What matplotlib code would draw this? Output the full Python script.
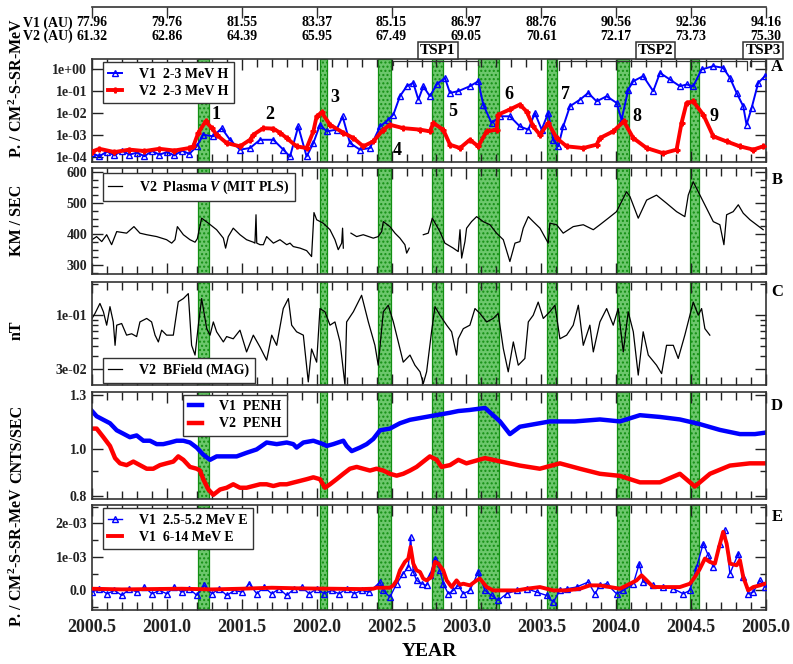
import numpy as np
import matplotlib
matplotlib.use('Agg')
import matplotlib.pyplot as plt
import matplotlib.ticker as mticker
import matplotlib.transforms as mtrans

plt.rcParams['font.family'] = ['Liberation Serif', 'DejaVu Serif']
plt.rcParams['font.weight'] = 'bold'
plt.rcParams['mathtext.fontset'] = 'custom'
plt.rcParams['mathtext.rm'] = 'Liberation Serif:bold'
plt.rcParams['mathtext.it'] = 'Liberation Serif:bold:italic'
plt.rcParams['mathtext.bf'] = 'Liberation Serif:bold'

# ---- data ----
# green shaded intervals (years)
bands = [(2001.208, 2001.281), (2002.022, 2002.069), (2002.409, 2002.496),
         (2002.770, 2002.843), (2003.077, 2003.217), (2003.537, 2003.604),
         (2004.005, 2004.085), (2004.492, 2004.552)]

# top axis: heliocentric distances
top_years = [2000.5, 2001.0, 2001.5, 2002.0, 2002.5, 2003.0, 2003.5, 2004.0, 2004.5, 2005.0]
v1_au = ['77.96', '79.76', '81.55', '83.37', '85.15', '86.97', '88.76', '90.56', '92.36', '94.16']
v2_au = ['61.32', '62.86', '64.39', '65.95', '67.49', '69.05', '70.61', '72.17', '73.73', '75.30']

tsp_names = ['TSP1', 'TSP2', 'TSP3']
tsp_centers = [2002.81, 2004.265, 2004.98]
tsp_spans = [(2002.51, 2003.08), (2003.62, 2004.87), (2004.89, 2004.99)]

event_labels = ['1', '2', '3', '4', '5', '6', '7', '8', '9']
event_x = [2001.33, 2001.69, 2002.12, 2002.54, 2002.91, 2003.28, 2003.66, 2004.14, 2004.65]
event_y = [8.5e-3, 8.5e-3, 5e-2, 2e-4, 1.15e-2, 7e-2, 7e-2, 6.8e-3, 6.8e-3]

# Panel A: 2-3 MeV H
a_v1_t = [2000.50, 2000.55, 2000.60, 2000.65, 2000.70, 2000.75, 2000.80, 2000.85, 2000.90,
          2000.95, 2001.00, 2001.05, 2001.10, 2001.15, 2001.199, 2001.243, 2001.310, 2001.366,
          2001.421, 2001.488, 2001.555, 2001.622, 2001.711, 2001.777, 2001.822, 2001.877,
          2001.933, 2001.978, 2002.022, 2002.067, 2002.133, 2002.173, 2002.222, 2002.289,
          2002.356, 2002.423, 2002.478, 2002.512, 2002.556, 2002.601, 2002.645, 2002.679,
          2002.712, 2002.756, 2002.801, 2002.856, 2002.890, 2002.945, 2003.023, 2003.079,
          2003.112, 2003.168, 2003.224, 2003.290, 2003.357, 2003.413, 2003.457, 2003.502,
          2003.546, 2003.580, 2003.613, 2003.646, 2003.691, 2003.758, 2003.813, 2003.869,
          2003.936, 2004.002, 2004.036, 2004.080, 2004.114, 2004.180, 2004.247, 2004.292,
          2004.358, 2004.425, 2004.470, 2004.514, 2004.570, 2004.648, 2004.714, 2004.759,
          2004.804, 2004.848, 2004.870, 2004.904, 2004.948, 2004.993]
a_v1 = [1.5e-4, 1.1e-4, 1.8e-4, 1.2e-4, 2.0e-4, 1.3e-4, 1.6e-4, 1.1e-4, 1.9e-4,
        1.3e-4, 1.7e-4, 1.2e-4, 2.0e-4, 1.4e-4, 3.1e-4, 1.05e-3, 8.9e-4, 2.1e-3,
        6.2e-4, 2.2e-4, 2.6e-4, 6.2e-4, 6.2e-4, 2.2e-4, 1.07e-4, 2.5e-3,
        1.07e-4, 4.4e-4, 3.0e-3, 1.5e-3, 1.8e-3, 7.3e-3, 4.4e-4, 2.2e-4,
        2.6e-4, 2.5e-3, 5.1e-3, 8.7e-3, 6.0e-2, 1.7e-1, 2.45e-1, 4.2e-2,
        1.7e-1, 6.0e-2, 2.06e-1, 4.15e-1, 8.5e-2, 1.02e-1, 1.72e-1, 2.9e-1,
        2.5e-2, 3.6e-3, 7.3e-3, 7.3e-3, 2.5e-3, 1.8e-3, 1.04e-2, 1.8e-3,
        1.04e-2, 6.2e-4, 3.1e-4, 2.5e-3, 2.1e-2, 4.2e-2, 8.5e-2, 3.5e-2,
        6.0e-2, 3.0e-2, 5.1e-3, 1.21e-1, 2.9e-1, 5.0e-1, 1.02e-1, 7.0e-1,
        3.5e-1, 1.72e-1, 2.06e-1, 1.72e-1, 1.0, 1.42, 1.19, 4.15e-1,
        8.5e-2, 2.1e-2, 3.0e-3, 1.75e-2, 2.45e-1, 5.0e-1]

a_v2_t = [2000.50, 2000.55, 2000.65, 2000.75, 2000.85, 2000.95, 2001.05, 2001.15, 2001.176,
          2001.210, 2001.259, 2001.300, 2001.332, 2001.399, 2001.488, 2001.555, 2001.577,
          2001.644, 2001.711, 2001.755, 2001.800, 2001.866, 2001.933, 2001.978, 2002.000,
          2002.033, 2002.089, 2002.178, 2002.245, 2002.311, 2002.378, 2002.445, 2002.489,
          2002.578, 2002.690, 2002.756, 2002.779, 2002.845, 2002.890, 2002.957, 2003.023,
          2003.079, 2003.135, 2003.201, 2003.212, 2003.290, 2003.357, 2003.402, 2003.446,
          2003.491, 2003.546, 2003.602, 2003.669, 2003.780, 2003.869, 2003.891, 2003.980,
          2004.051, 2004.114, 2004.203, 2004.314, 2004.403, 2004.436, 2004.470, 2004.514,
          2004.581, 2004.648, 2004.737, 2004.826, 2004.915, 2004.981]
a_v2 = [1.8e-4, 2.4e-4, 1.7e-4, 2.2e-4, 1.9e-4, 2.4e-4, 2.0e-4, 2.6e-4, 3.1e-4,
        1.3e-3, 4.3e-3, 2.1e-3, 1.05e-3, 4.4e-4, 3.1e-4, 6.2e-4, 1.05e-3,
        2.1e-3, 2.0e-3, 1.3e-3, 7.4e-4, 3.1e-4, 2.6e-4, 1.5e-3, 7.3e-3,
        1.1e-2, 3.0e-3, 1.3e-3, 7.4e-4, 3.1e-4, 5.2e-4, 1.8e-3, 3.0e-3,
        2.1e-3, 1.8e-3, 1.5e-3, 3.6e-3, 1.8e-3, 3.7e-4, 2.6e-4, 6.2e-4,
        3.1e-4, 1.5e-3, 1.8e-3, 8.7e-3, 1.5e-2, 2.5e-2, 1.2e-2, 2.5e-3,
        1.05e-3, 3.6e-3, 7.4e-4, 3.1e-4, 2.6e-4, 3.7e-4, 7.4e-4, 1.5e-3,
        4.3e-3, 7.4e-4, 2.6e-4, 1.5e-4, 2.2e-4, 3.6e-3, 3.0e-2, 3.5e-2,
        8.7e-3, 8.9e-4, 5.2e-4, 3.1e-4, 2.2e-4, 3.1e-4]

# Panel B: V2 plasma speed (km/s), NaN = data gap
b_t = [2000.50, 2000.531, 2000.565, 2000.598, 2000.631, 2000.665, 2000.731, 2000.780, 2000.820,
       2000.865, 2000.932, 2000.998, 2001.032, 2001.054, 2001.070, 2001.110, 2001.154, 2001.188,
       2001.203, 2001.232, 2001.277, 2001.332, 2001.377, 2001.392, 2001.410, 2001.443, 2001.488,
       2001.532, 2001.577, 2001.588, 2001.595, 2001.600, 2001.622, 2001.644, 2001.666, 2001.711,
       2001.755, 2001.800, 2001.822, 2001.844, 2001.889, 2001.933, 2001.966, 2001.982, 2002.000,
       2002.044, 2002.089, 2002.122, 2002.144, 2002.167, 2002.173, 2002.178, 2002.200, 2002.229,
       2002.267, 2002.311, 2002.378, 2002.411, 2002.434, 2002.445, 2002.489, 2002.523, 2002.556,
       2002.589, 2002.601, 2002.618, 2002.660, 2002.712, 2002.745, 2002.772, 2002.823, 2002.856,
       2002.912, 2002.945, 2002.957, 2002.968, 2002.990, 2003.001, 2003.034, 2003.068, 2003.112,
       2003.157, 2003.201, 2003.246, 2003.290, 2003.324, 2003.357, 2003.379, 2003.413, 2003.446,
       2003.491, 2003.546, 2003.557, 2003.602, 2003.646, 2003.713, 2003.780, 2003.847, 2003.891,
       2003.947, 2004.002, 2004.069, 2004.092, 2004.147, 2004.203, 2004.269, 2004.336, 2004.403,
       2004.458, 2004.481, 2004.514, 2004.559, 2004.603, 2004.648, 2004.692, 2004.719, 2004.737,
       2004.781, 2004.815, 2004.848, 2004.893, 2004.937, 2004.981]
b_v = [382, 392, 376, 398, 366, 408, 403, 424, 403,
       398, 392, 382, 371, 382, 424, 398, 382, 374,
       385, 451, 435, 414, 387, 355, 392, 419, 398,
       382, 374, 371, 462, 371, 366, 366, 392, 371,
       382, 366, 371, 360, 355, 347, 328, 469, 446,
       435, 414, 382, 350, 371, 419, 355, np.nan, 403,
       392, 398, 387, 392, 408, 440, 424, 403, 387,
       366, 339, 355, np.nan, 398, 403, 451, 408, 371,
       355, 344, 414, 323, 376, 419, 440, 456, 440,
       430, 403, 382, 312, 371, 376, 419, 456, 440,
       419, 371, 435, 430, 403, 424, 430, 414, 430,
       451, 472, 536, 520, 451, 509, 525, 499, 472,
       456, 525, 568, 525, 483, 440, 430, 366, 462,
       472, 494, 467, 446, 430, 414]

# Panel C: V2 magnetic field (nT)
c_t = [2000.50, 2000.520, 2000.553, 2000.576, 2000.598, 2000.620, 2000.642, 2000.654, 2000.665,
       2000.698, 2000.731, 2000.765, 2000.798, 2000.820, 2000.865, 2000.898, 2000.921, 2000.943,
       2000.965, 2000.998, 2001.043, 2001.076, 2001.110, 2001.143, 2001.165, 2001.188, 2001.210,
       2001.232, 2001.266, 2001.288, 2001.310, 2001.332, 2001.377, 2001.399, 2001.443, 2001.488,
       2001.532, 2001.577, 2001.622, 2001.666, 2001.700, 2001.733, 2001.777, 2001.811, 2001.833,
       2001.866, 2001.911, 2001.944, 2001.966, 2002.000, 2002.022, 2002.055, 2002.089, 2002.122,
       2002.156, 2002.189, 2002.200, 2002.245, 2002.300, 2002.345, 2002.389, 2002.411, 2002.445,
       2002.478, 2002.512, 2002.545, 2002.578, 2002.623, 2002.656, 2002.690, 2002.712, 2002.734,
       2002.767, 2002.790, 2002.823, 2002.868, 2002.901, 2002.934, 2002.945, 2002.979, 2003.023,
       2003.057, 2003.090, 2003.135, 2003.179, 2003.212, 2003.246, 2003.279, 2003.313, 2003.346,
       2003.390, 2003.413, 2003.446, 2003.479, 2003.513, 2003.557, 2003.591, 2003.624, 2003.669,
       2003.713, 2003.747, 2003.780, 2003.824, 2003.847, 2003.891, 2003.936, 2003.980, 2004.013,
       2004.047, 2004.080, 2004.114, 2004.147, 2004.180, 2004.214, 2004.269, 2004.303, 2004.336,
       2004.381, 2004.414, 2004.458, 2004.492, 2004.514, 2004.548, 2004.570, 2004.592, 2004.625]
c_v = [0.093, 0.104, 0.130, 0.108, 0.080, 0.121, 0.086, 0.051, 0.080,
       0.083, 0.064, 0.066, 0.062, 0.086, 0.093, 0.086, 0.064, 0.055,
       0.0715, 0.064, 0.064, 0.135, 0.145, 0.162, 0.051, 0.041, 0.080,
       0.145, 0.074, 0.064, 0.086, 0.069, 0.055, 0.062, 0.059, 0.0715,
       0.044, 0.064, 0.049, 0.0366, 0.064, 0.051, 0.116, 0.145, 0.080,
       0.069, 0.064, 0.0225, 0.047, 0.035, 0.116, 0.108, 0.080, 0.086,
       0.055, 0.021, 0.086, 0.108, 0.156, 0.086, 0.051, 0.0327, 0.108,
       0.125, 0.086, 0.055, 0.035, 0.041, 0.0327, 0.0282, 0.0217, 0.0282,
       0.069, 0.121, 0.100, 0.080, 0.069, 0.041, 0.059, 0.074, 0.080,
       0.116, 0.104, 0.086, 0.093, 0.104, 0.0475, 0.0282, 0.055, 0.0327,
       0.038, 0.086, 0.100, 0.134, 0.093, 0.108, 0.125, 0.059, 0.064,
       0.080, 0.125, 0.051, 0.080, 0.044, 0.086, 0.116, 0.080, 0.116,
       0.044, 0.108, 0.069, 0.0262, 0.069, 0.041, 0.0327, 0.0271, 0.051,
       0.051, 0.038, 0.064, 0.100, 0.134, 0.100, 0.116, 0.074, 0.064]

# Panel D: PENH count rates (cnts/s)
d_v1_t = [2000.50, 2000.531, 2000.576, 2000.620, 2000.665, 2000.709, 2000.753, 2000.798, 2000.843,
          2000.887, 2000.932, 2000.976, 2001.021, 2001.065, 2001.110, 2001.154, 2001.199, 2001.243,
          2001.288, 2001.332, 2001.399, 2001.466, 2001.532, 2001.599, 2001.666, 2001.733, 2001.800,
          2001.844, 2001.866, 2001.911, 2001.978, 2002.044, 2002.067, 2002.111, 2002.178, 2002.200,
          2002.234, 2002.289, 2002.334, 2002.378, 2002.423, 2002.489, 2002.556, 2002.623, 2002.690,
          2002.756, 2002.823, 2002.890, 2002.946, 2003.020, 2003.124, 2003.224, 2003.290, 2003.357,
          2003.557, 2003.724, 2003.891, 2004.025, 2004.158, 2004.292, 2004.425, 2004.559, 2004.692,
          2004.826, 2004.926, 2005.0]
d_v1 = [1.204, 1.174, 1.154, 1.135, 1.097, 1.079, 1.061, 1.070, 1.043,
        1.043, 1.026, 1.026, 1.034, 1.043, 1.043, 1.034, 1.009, 0.975,
        0.951, 0.967, 0.967, 0.967, 0.984, 1.000, 1.034, 1.026, 1.034,
        1.026, 1.009, 1.034, 1.043, 1.026, 1.017, 1.026, 1.043, 1.017,
        0.992, 1.009, 1.026, 1.052, 1.097, 1.106, 1.135, 1.154, 1.164,
        1.174, 1.184, 1.194, 1.204, 1.210, 1.222, 1.145, 1.077, 1.116,
        1.145, 1.145, 1.156, 1.145, 1.180, 1.170, 1.156, 1.130, 1.099,
        1.077, 1.077, 1.085]
d_v2_t = [2000.50, 2000.531, 2000.576, 2000.620, 2000.654, 2000.687, 2000.731, 2000.776, 2000.820,
          2000.865, 2000.909, 2000.954, 2000.998, 2001.043, 2001.076, 2001.110, 2001.154, 2001.199,
          2001.221, 2001.243, 2001.277, 2001.310, 2001.355, 2001.399, 2001.443, 2001.488, 2001.532,
          2001.577, 2001.622, 2001.666, 2001.711, 2001.755, 2001.800, 2001.844, 2001.889, 2001.933,
          2001.978, 2002.022, 2002.055, 2002.089, 2002.133, 2002.178, 2002.222, 2002.267, 2002.311,
          2002.356, 2002.400, 2002.445, 2002.489, 2002.534, 2002.578, 2002.623, 2002.667, 2002.712,
          2002.756, 2002.801, 2002.834, 2002.890, 2002.946, 2003.000, 2003.124, 2003.224, 2003.357,
          2003.490, 2003.624, 2003.757, 2003.891, 2004.025, 2004.158, 2004.292, 2004.425, 2004.525,
          2004.626, 2004.759, 2004.892, 2005.0]
d_v2 = [1.106, 1.106, 1.061, 1.017, 0.959, 0.935, 0.927, 0.943, 0.927,
        0.911, 0.911, 0.927, 0.935, 0.943, 0.967, 0.951, 0.919, 0.911,
        0.903, 0.866, 0.824, 0.803, 0.824, 0.831, 0.845, 0.831, 0.831,
        0.838, 0.845, 0.845, 0.838, 0.845, 0.845, 0.852, 0.859, 0.866,
        0.874, 0.866, 0.831, 0.845, 0.866, 0.889, 0.911, 0.919, 0.911,
        0.903, 0.911, 0.903, 0.889, 0.881, 0.889, 0.903, 0.919, 0.943,
        0.967, 0.951, 0.919, 0.927, 0.951, 0.935, 0.959, 0.944, 0.925,
        0.911, 0.935, 0.911, 0.889, 0.880, 0.853, 0.853, 0.889, 0.836,
        0.889, 0.925, 0.935, 0.935]

# Panel E: electrons, in units of 1e-3
e_hi_t = [2000.50, 2000.70, 2000.90, 2001.10, 2001.30, 2001.50, 2001.70, 2001.90, 2002.10,
          2002.30, 2002.378, 2002.400, 2002.489, 2002.512, 2002.534, 2002.556, 2002.589, 2002.612,
          2002.627, 2002.645, 2002.667, 2002.690, 2002.712, 2002.734, 2002.767, 2002.790, 2002.812,
          2002.845, 2002.868, 2002.901, 2002.934, 2002.957, 2002.979, 2003.023, 2003.068, 2003.090,
          2003.135, 2003.179, 2003.224, 2003.268, 2003.335, 2003.402, 2003.491, 2003.535, 2003.580,
          2003.669, 2003.758, 2003.824, 2003.891, 2003.958, 2004.025, 2004.092, 2004.136, 2004.169,
          2004.203, 2004.247, 2004.336, 2004.425, 2004.492, 2004.525, 2004.559, 2004.592, 2004.625,
          2004.659, 2004.681, 2004.714, 2004.737, 2004.759, 2004.804, 2004.826, 2004.848, 2004.881,
          2004.915, 2004.959, 2004.993]
e_hi = [0.05, 0.03, 0.04, 0.05, 0.03, 0.05, 0.08, 0.06, 0.05,
        0.04, 0.05, 0.08, 0.08, 0.15, 0.30, 0.60, 0.85, 0.95,
        1.30, 0.80, 0.60, 0.55, 0.35, 0.30, 0.40, 0.85, 0.80,
        0.60, 0.30, 0.10, 0.30, 0.17, 0.20, 0.15, 0.30, 0.35,
        0.10, 0.0, 0.0, 0.0, 0.0, 0.05, 0.10, 0.05, 0.0,
        0.0, 0.05, 0.15, 0.15, 0.10, 0.05, 0.20, 0.30, 0.45,
        0.30, 0.10, 0.10, 0.10, 0.20, 0.40, 0.65, 0.95, 0.85,
        0.80, 1.20, 1.75, 1.40, 0.80, 0.75, 0.90, 0.40, 0.0,
        0.10, 0.15, 0.20]
e_lo_t = [2000.50, 2000.55, 2000.60, 2000.65, 2000.70, 2000.75, 2000.80, 2000.85, 2000.90,
          2000.95, 2001.00, 2001.05, 2001.10, 2001.15, 2001.20, 2001.25, 2001.30, 2001.35,
          2001.40, 2001.45, 2001.50, 2001.55, 2001.60, 2001.65, 2001.70, 2001.75, 2001.80,
          2001.85, 2001.90, 2001.95, 2002.00, 2002.05, 2002.10, 2002.15, 2002.20, 2002.25,
          2002.30, 2002.35, 2002.423, 2002.445, 2002.489, 2002.534, 2002.578, 2002.612, 2002.627,
          2002.645, 2002.667, 2002.701, 2002.734, 2002.756, 2002.790, 2002.823, 2002.845, 2002.879,
          2002.912, 2002.946, 2002.979, 2003.023, 2003.079, 2003.123, 2003.168, 2003.212, 2003.268,
          2003.335, 2003.402, 2003.468, 2003.535, 2003.580, 2003.624, 2003.669, 2003.735, 2003.813,
          2003.858, 2003.891, 2003.936, 2004.002, 2004.047, 2004.114, 2004.154, 2004.180, 2004.247,
          2004.314, 2004.381, 2004.447, 2004.492, 2004.537, 2004.581, 2004.614, 2004.648, 2004.692,
          2004.726, 2004.759, 2004.815, 2004.848, 2004.881, 2004.915, 2004.959, 2004.993]
e_lo = [-0.05, 0.05, -0.10, 0.0, -0.15, 0.05, -0.05, 0.10, -0.10,
        0.0, -0.10, 0.10, -0.05, 0.05, -0.15, 0.15, -0.10, 0.05,
        -0.15, 0.0, -0.05, 0.20, -0.10, 0.10, -0.10, 0.05, -0.15,
        0.05, 0.10, -0.10, 0.05, -0.10, 0.0, -0.10, 0.05, -0.10,
        0.0, -0.05, 0.25, 0.0, -0.20, 0.20, 0.50, 0.70, 1.60,
        0.55, 0.30, 0.20, 0.15, 0.45, 0.95, 0.60, 0.20, -0.10,
        0.0, 0.15, -0.10, 0.0, 0.55, 0.0, -0.15, -0.30, -0.10,
        0.0, 0.05, -0.05, -0.15, -0.35, 0.0, 0.05, 0.10, 0.25,
        -0.10, 0.15, 0.20, -0.10, 0.0, 0.20, 0.80, 0.25, 0.15,
        0.10, 0.05, -0.10, 0.0, 0.70, 1.40, 1.05, 0.70, 1.40,
        1.80, 0.50, 1.10, 0.40, -0.10, -0.05, 0.30, 0.10]

# ---- figure ----
W, H = 793, 664
fig = plt.figure(figsize=(W / 100, H / 100), dpi=100)
x0, x1 = 92, 766
panel_px = [(59, 162), (168, 274), (282, 385), (392, 499), (505, 609.5)]
axes = []
for top, bot in panel_px:
    axes.append(fig.add_axes([x0 / W, 1 - bot / H, (x1 - x0) / W, (bot - top) / H]))
axA, axB, axC, axD, axE = axes

blue = '#0000ff'
red = '#ff0000'

for ax in axes:
    ax.set_xlim(2000.5, 2005.0)
    for a, b in bands:
        ax.axvspan(a, b, facecolor='#6cc76c', edgecolor='#138f13', hatch='....',
                   lw=0.9, zorder=0)
    ax.xaxis.set_major_locator(mticker.MultipleLocator(0.5))
    ax.xaxis.set_minor_locator(mticker.MultipleLocator(0.1))
    ax.tick_params(which='both', direction='in', top=True, right=True,
                   labelsize=10, width=1.0, colors='#222222')
    ax.tick_params(which='major', length=8)
    ax.tick_params(which='minor', length=6)
    ax.tick_params(axis='y', which='minor', length=4)
    ax.tick_params(axis='x', labelbottom=False)
    for s in ax.spines.values():
        s.set_linewidth(1.2)
        s.set_color('#333333')

# Panel A
axA.set_yscale('log')
axA.set_ylim(6e-5, 3.0)
axA.plot(a_v1_t, a_v1, color=blue, lw=1.4, marker='^', ms=4, mfc='none', mew=1.0,
         label='V1  2-3 MeV H', zorder=3)
axA.plot(a_v2_t, a_v2, color=red, lw=2.8, marker='P', ms=3.5, label='V2  2-3 MeV H', zorder=4)
axA.yaxis.set_major_locator(mticker.FixedLocator([1e-4, 1e-3, 1e-2, 1e-1, 1e0]))
axA.yaxis.set_major_formatter(mticker.FuncFormatter(lambda v, p: '%.0e' % v))
axA.yaxis.set_minor_locator(mticker.LogLocator(subs=np.arange(2, 10)))
axA.yaxis.set_minor_formatter(mticker.NullFormatter())
for lab, xx, yy in zip(event_labels, event_x, event_y):
    axA.text(xx, yy, lab, fontsize=13, fontweight='bold', ha='center', va='center', zorder=6)
brk = mtrans.blended_transform_factory(axA.transData, axA.transAxes)
for (a, b), depth in zip(tsp_spans, [0.94, 0.89, 0.93]):
    axA.plot([a, a, b, b], [depth, 0.98, 0.98, depth], color='#333333', lw=0.9,
             transform=brk, clip_on=False, zorder=5)
for name, xc in zip(tsp_names, tsp_centers):
    axA.text(xc, 1.085, name, transform=brk, fontsize=11, fontweight='bold', ha='center',
             va='center', bbox=dict(boxstyle='square,pad=0.12', fc='white', ec='#333333', lw=1.1))

# Panel B
axB.set_ylim(272, 612)
axB.plot(b_t, b_v, color='black', lw=0.9, label='V2  Plasma $V$ (MIT PLS)')
axB.yaxis.set_major_locator(mticker.MultipleLocator(100))
axB.yaxis.set_minor_locator(mticker.MultipleLocator(25))

# Panel C
axC.set_yscale('log')
axC.set_ylim(0.021, 0.21)
axC.plot(c_t, c_v, color='black', lw=0.9, label='V2  BField (MAG)')
axC.yaxis.set_major_locator(mticker.FixedLocator([0.03, 0.1]))
axC.yaxis.set_major_formatter(mticker.FuncFormatter(lambda v, p: '%.0e' % v))
axC.yaxis.set_minor_locator(mticker.LogLocator(subs=np.arange(2, 10)))
axC.yaxis.set_minor_formatter(mticker.NullFormatter())

# Panel D
axD.set_yscale('log')
axD.set_ylim(0.787, 1.32)
axD.plot(d_v1_t, d_v1, color=blue, lw=3.2, label='V1  PENH')
axD.plot(d_v2_t, d_v2, color=red, lw=3.2, label='V2  PENH')
axD.yaxis.set_major_locator(mticker.FixedLocator([0.8, 1.0, 1.3]))
axD.yaxis.set_major_formatter(mticker.FuncFormatter(lambda v, p: '%.1f' % v))
axD.yaxis.set_minor_locator(mticker.FixedLocator([0.9]))
axD.yaxis.set_minor_formatter(mticker.NullFormatter())

# Panel E
axE.set_ylim(-0.57e-3, 2.55e-3)
axE.plot(e_lo_t, np.array(e_lo) * 1e-3, color=blue, lw=1.0, marker='^', ms=4,
         mfc='none', mew=1.0, label='V1  2.5-5.2 MeV E', zorder=3)
axE.plot(e_hi_t, np.array(e_hi) * 1e-3, color=red, lw=2.8, label='V1  6-14 MeV E', zorder=4)
axE.yaxis.set_major_locator(mticker.FixedLocator([0, 1e-3, 2e-3]))
axE.yaxis.set_major_formatter(mticker.FuncFormatter(
    lambda v, p: '0.0' if abs(v) < 1e-9 else '%.0e' % v))
axE.yaxis.set_minor_locator(mticker.MultipleLocator(0.5e-3))
axE.tick_params(axis='x', labelbottom=True, labelsize=13, pad=7)
axE.xaxis.set_major_formatter(mticker.FormatStrFormatter('%.1f'))
fig.text((x0 + x1) / 2 / W, 1 - 651 / H, 'YEAR', fontsize=14, fontweight='bold',
         ha='center', va='center')

# legends
leg_pos = [(axA, (0.016, 0.97), 'upper left'), (axB, (0.016, 0.955), 'upper left'),
           (axC, (0.016, 0.02), 'lower left'), (axD, (0.135, 0.975), 'upper left'),
           (axE, (0.016, 0.97), 'upper left')]
for ax, anchor, loc in leg_pos:
    leg = ax.legend(loc=loc, bbox_to_anchor=anchor, fancybox=False,
                    framealpha=1, edgecolor='#333333', handlelength=1.0,
                    handletextpad=1.2, borderpad=0.4, borderaxespad=0,
                    labelspacing=0.3, prop={'weight': 'bold', 'size': 10})
    leg.get_frame().set_linewidth(1.0)
    leg.set_zorder(10)

# panel letters
for ax, letter, yy in zip(axes, 'ABCDE', [0.92, 0.887, 0.90, 0.87, 0.885]):
    ax.text(1.016, yy, letter, transform=ax.transAxes, fontsize=12, fontweight='bold',
            ha='center', va='center')

# y labels
ylabels = ['P. / CM$^2$-S-SR-MeV', 'KM / SEC', 'nT', 'CNTS/SEC', 'P. / CM$^2$-S-SR-MeV']
ylab_y = [88, 220, 330, 444, 557]
for txt, yy in zip(ylabels, ylab_y):
    fig.text(17 / W, 1 - yy / H, txt, rotation=90, fontsize=11.5, fontweight='bold',
             ha='center', va='center')

# top distance axis
axT = fig.add_axes([x0 / W, 1 - 16 / H, (x1 - x0) / W, 9 / H])
axT.set_xlim(2000.5, 2005.0)
axT.set_ylim(0, 1)
for side in ['left', 'right', 'bottom']:
    axT.spines[side].set_visible(False)
axT.spines['top'].set_linewidth(1.2)
axT.spines['top'].set_color('#333333')
axT.patch.set_alpha(0)
axT.set_xticks(top_years)
axT.set_yticks([])
axT.tick_params(axis='x', direction='in', top=True, bottom=False, labeltop=False,
                labelbottom=False, length=8, width=1.0, colors='#333333')
tt = mtrans.blended_transform_factory(axT.transData, fig.transFigure)
for xx, s1, s2 in zip(top_years, v1_au, v2_au):
    axT.text(xx, 1 - 23 / H, s1, transform=tt, fontsize=10, fontweight='bold',
             ha='center', va='center')
    axT.text(xx, 1 - 36 / H, s2, transform=tt, fontsize=10, fontweight='bold',
             ha='center', va='center')
fig.text(73 / W, 1 - 23 / H, 'V1 (AU)', fontsize=10, fontweight='bold', ha='right', va='center')
fig.text(73 / W, 1 - 36 / H, 'V2 (AU)', fontsize=10, fontweight='bold', ha='right', va='center')

fig.savefig('out.png', dpi=100)
